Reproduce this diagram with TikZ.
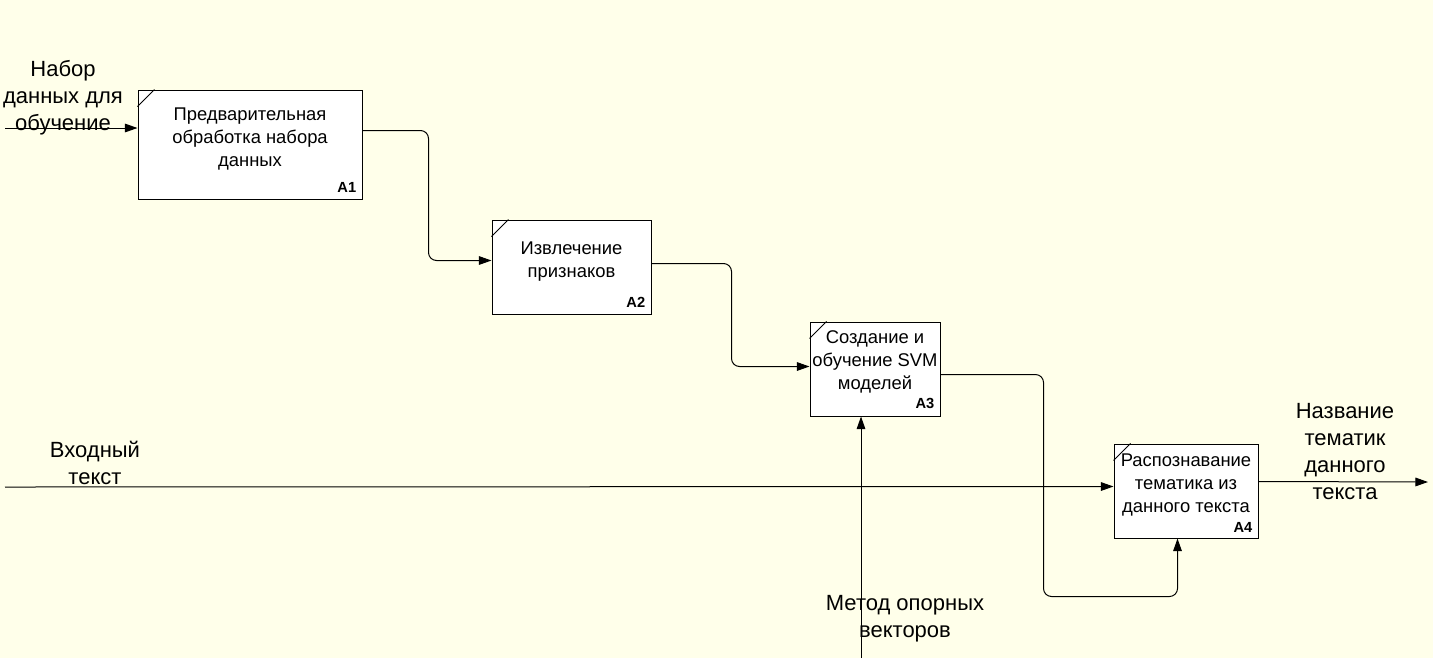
\documentclass[tikz,border=0pt]{standalone}
\usepackage{fontspec}
\setmainfont{Liberation Sans}
\usetikzlibrary{arrows.meta,calc}
\definecolor{bgc}{RGB}{255,255,234}
\tikzset{
  box/.style={draw=black, fill=white, line width=0.75pt, inner sep=0pt},
  boxtext/.style={align=center, inner sep=0pt, font=\fontsize{13.8pt}{17.25pt}\selectfont},
  nlabel/.style={anchor=base east, inner sep=0pt, font=\fontsize{11pt}{13pt}\selectfont\bfseries},
  arrlabel/.style={align=center, inner sep=0pt, font=\fontsize{16.5pt}{20.25pt}\selectfont},
  conn/.style={draw=black, line width=0.75pt, -{Triangle[length=9.5pt,width=6.5pt]}, rounded corners=6pt},
  cornermark/.style={line width=0.6pt}
}
\begin{document}
\begin{tikzpicture}[x=0.75pt,y=-0.75pt]
\fill[bgc] (0,0) rectangle (1433,658);
\useasboundingbox (0,0) rectangle (1433,658);

% boxes
\node[box, minimum width={0.75*224pt}, minimum height={0.75*109pt}] (a1) at (250,144.5) {};
\node[box, minimum width={0.75*159pt}, minimum height={0.75*94pt}] (a2) at (571.5,267) {};
\node[box, minimum width={0.75*130pt}, minimum height={0.75*94pt}] (a3) at (875,369) {};
\node[box, minimum width={0.75*144pt}, minimum height={0.75*94pt}] (a4) at (1186,491) {};

% corner marks
\foreach \b in {a1,a2,a3,a4}{
  \draw[cornermark] ($(\b.north west)+(0,17)$) -- ($(\b.north west)+(17,0)$);
}

% box texts
\node[boxtext] (t1) at (250,139) {Предварительная\\обработка набора\\данных};
\node[boxtext] (t2) at (571.5,261.5) {Извлечение\\признаков};
\node[boxtext] (t3) at (875,362) {Создание и\\обучение SVM\\моделей};
\node[boxtext] (t4) at (1186,485) {Распознавание\\тематика из\\данного текста};

% box numbers
\node[nlabel] (n1) at ($(a1.south east)+(-6,-7)$) {A1};
\node[nlabel] (n2) at ($(a2.south east)+(-6,-7)$) {A2};
\node[nlabel] (n3) at ($(a3.south east)+(-6,-8)$) {A3};
\node[nlabel] (n4) at ($(a4.south east)+(-6,-6)$) {A4};

% free ends
\coordinate (in1) at (5,128);
\coordinate (in2) at (5,487);
\coordinate (mech) at (861,658);
\coordinate (out) at (1428,482);

% connectors
\draw[conn] (in1) -- (a1.west |- in1);
\draw[conn] ($(a1.north east)+(0,41)$) -- ++(66,0) |- ($(a2.north west)+(0,41)$);
\draw[conn] ($(a2.north east)+(0,44)$) -- ++(80,0) |- ($(a3.north west)+(0,45)$);
\draw[conn] ($(a3.north east)+(0,53)$) -- ++(103,0) -- ++(0,222) -| ($(a4.south west)+(64,0)$);
\draw[conn] (in2) -- ($(a4.north west)+(0,43)$);
\draw[conn] (mech) -- (a3.south -| mech);
\draw[conn] ($(a4.north east)+(0,38)$) -- (out);

% arrow labels
\node[arrlabel] (l1) at (63,98) {Набор\\данных для\\обучение};
\node[arrlabel] (l2) at (95,463) {Входный\\текст};
\node[arrlabel] (l3) at (905,618.5) {Метод опорных\\векторов};
\node[arrlabel] (l4) at (1345,452) {Название\\тематик\\данного\\текста};
\end{tikzpicture}
\end{document}
